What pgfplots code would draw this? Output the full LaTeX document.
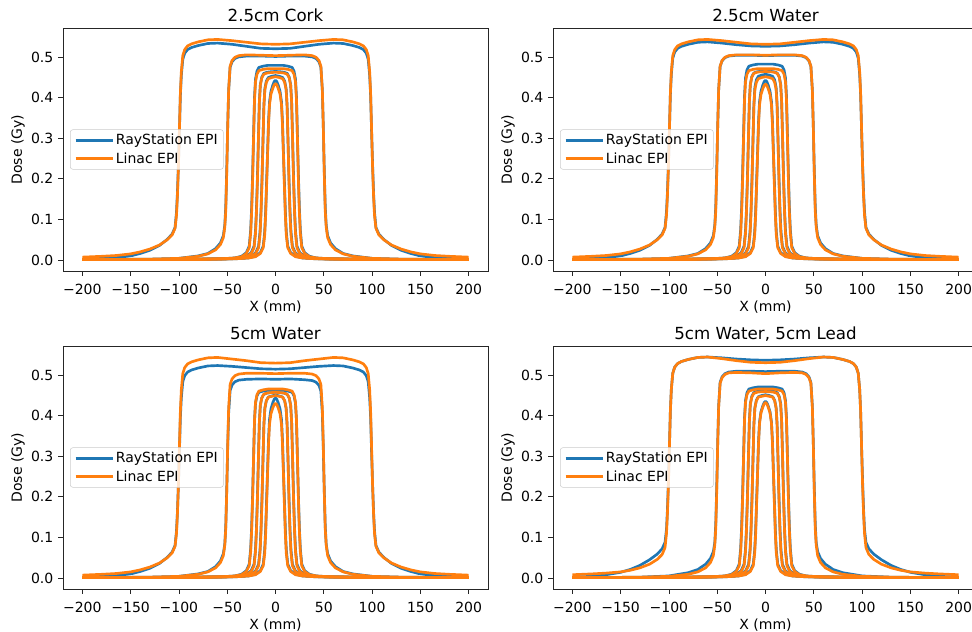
\documentclass[border=0pt]{standalone}
\usepackage{pgfplots}
\pgfplotsset{compat=1.18}
\usepackage{pgfplotstable}
\usepackage{fontspec}
\setmainfont{DejaVu Sans}
\definecolor{tabblue}{HTML}{1F77B4}
\definecolor{taborange}{HTML}{FF7F0E}

% columns: tl = 2.5cm Cork, tr = 2.5cm Water, bl = 5cm Water, br = 5cm Water 5cm Lead; b = RayStation, o = Linac
\pgfplotstableread{
x tlb tlo trb tro blb blo brb bro
-200 .002 .007 .002 .007 .002 .007 .002 .008
-180 .004 .009 .004 .009 .004 .009 .004 .010
-165 .006 .011 .006 .011 .006 .011 .008 .012
-150 .010 .015 .010 .015 .010 .015 .014 .015
-140 .016 .020 .016 .020 .016 .020 .021 .019
-130 .024 .027 .024 .027 .024 .027 .031 .025
-120 .036 .037 .036 .037 .036 .037 .045 .034
-112 .051 .050 .051 .050 .051 .050 .059 .046
-107 .064 .062 .064 .062 .064 .062 .072 .058
-104 .080 .078 .080 .078 .080 .078 .088 .075
-102.5 .118 .110 .119 .110 .116 .110 .120 .110
-101.5 .167 .160 .168 .160 .164 .160 .170 .160
-100.5 .236 .230 .237 .230 .231 .230 .240 .230
-99.5 .315 .320 .317 .320 .308 .320 .321 .320
-98.5 .405 .410 .407 .410 .396 .410 .411 .411
-97.5 .455 .464 .458 .464 .444 .464 .465 .465
-96 .495 .504 .498 .504 .484 .504 .505 .505
-94 .510 .519 .513 .519 .499 .519 .520 .520
-91 .519 .528 .522 .528 .508 .528 .529 .529
-87 .524 .533 .527 .533 .513 .533 .534 .534
-80 .529 .538 .532 .538 .518 .538 .539 .539
-70 .534 .543 .537 .543 .523 .543 .544 .544
-60 .535 .544 .538 .544 .524 .544 .545 .545
-45 .532 .541 .535 .541 .522 .540 .543 .541
-30 .527 .537 .531 .537 .519 .536 .540 .536
-15 .522 .533 .528 .533 .516 .531 .538 .532
0 .521 .532 .527 .532 .515 .530 .537 .531
15 .522 .533 .528 .533 .516 .531 .538 .532
30 .527 .537 .531 .537 .519 .536 .540 .536
45 .532 .541 .535 .541 .522 .540 .543 .541
60 .535 .544 .538 .544 .524 .544 .545 .545
70 .534 .543 .537 .543 .523 .543 .544 .544
80 .529 .538 .532 .538 .518 .538 .539 .539
87 .524 .533 .527 .533 .513 .533 .534 .534
91 .519 .528 .522 .528 .508 .528 .529 .529
94 .510 .519 .513 .519 .499 .519 .520 .520
96 .495 .504 .498 .504 .484 .504 .505 .505
97.5 .455 .464 .458 .464 .444 .464 .465 .465
98.5 .405 .410 .407 .410 .396 .410 .411 .411
99.5 .315 .320 .317 .320 .308 .320 .321 .320
100.5 .236 .230 .237 .230 .231 .230 .240 .230
101.5 .167 .160 .168 .160 .164 .160 .170 .160
102.5 .118 .110 .119 .110 .116 .110 .120 .110
104 .080 .078 .080 .078 .080 .078 .088 .075
107 .064 .062 .064 .062 .064 .062 .072 .058
112 .051 .050 .051 .050 .051 .050 .059 .046
120 .036 .037 .036 .037 .036 .037 .045 .034
130 .024 .027 .024 .027 .024 .027 .031 .025
140 .016 .020 .016 .020 .016 .020 .021 .019
150 .010 .015 .010 .015 .010 .015 .014 .015
165 .006 .011 .006 .011 .006 .011 .008 .012
180 .004 .009 .004 .009 .004 .009 .004 .010
200 .002 .007 .002 .007 .002 .007 .002 .008
}\tabL

\pgfplotstableread{
x tlb tlo trb tro blb blo brb bro
-200 .001 .001 .001 .001 .001 .001 .001 .001
-165 .0012 .0012 .0012 .0012 .0012 .0012 .0012 .0012
-130 .002 .002 .002 .002 .002 .002 .002 .002
-100 .004 .004 .004 .004 .004 .004 .005 .004
-80 .010 .009 .010 .009 .010 .009 .013 .009
-70 .016 .015 .016 .015 .016 .015 .021 .015
-62 .028 .025 .028 .025 .028 .025 .034 .025
-57 .042 .038 .042 .038 .042 .038 .048 .038
-54 .060 .055 .060 .055 .060 .055 .065 .055
-52.5 .086 .081 .086 .081 .083 .081 .087 .081
-51.5 .131 .121 .131 .121 .127 .121 .133 .122
-50.5 .221 .213 .222 .213 .216 .212 .224 .213
-49.5 .327 .329 .328 .329 .319 .328 .332 .330
-48.5 .418 .420 .419 .420 .407 .419 .424 .422
-47 .475 .478 .477 .478 .462 .477 .482 .480
-45 .489 .492 .491 .492 .476 .491 .496 .494
-42 .497 .500 .499 .500 .484 .499 .504 .502
-38 .501 .504 .503 .504 .488 .503 .508 .506
-30 .503 .506 .505 .506 .490 .505 .510 .507
-15 .503 .505 .505 .506 .491 .505 .510 .506
0 .502 .504 .504 .505 .490 .504 .509 .504
15 .503 .505 .505 .506 .491 .505 .510 .506
30 .503 .506 .505 .506 .489 .505 .510 .507
38 .501 .504 .503 .504 .487 .503 .508 .506
42 .497 .500 .499 .500 .483 .499 .504 .502
45 .489 .492 .491 .492 .475 .491 .496 .494
47 .475 .478 .477 .478 .461 .477 .482 .480
48.5 .418 .420 .419 .420 .406 .419 .424 .422
49.5 .327 .329 .328 .329 .318 .328 .332 .330
50.5 .221 .213 .222 .213 .216 .212 .224 .213
51.5 .131 .121 .131 .121 .127 .121 .133 .122
52.5 .086 .081 .086 .081 .083 .081 .087 .081
54 .060 .055 .060 .055 .060 .055 .065 .055
57 .042 .038 .042 .038 .042 .038 .048 .038
62 .028 .025 .028 .025 .028 .025 .034 .025
70 .016 .015 .016 .015 .016 .015 .021 .015
80 .010 .009 .010 .009 .010 .009 .013 .009
100 .004 .004 .004 .004 .004 .004 .005 .004
130 .002 .002 .002 .002 .002 .002 .002 .002
165 .0012 .0012 .0012 .0012 .0012 .0012 .0012 .0012
200 .001 .001 .001 .001 .001 .001 .001 .001
}\tabM

\pgfplotstableread{
x tlb tlo trb tro blb blo brb bro
-200 .001 .001 .001 .001 .001 .001 .001 .001
-120 .0012 .0012 .0012 .0012 .0012 .0012 .0012 .0012
-80.2 .002 .002 .002 .002 .002 .002 .002 .002
-55.2 .003 .003 .003 .003 .003 .003 .003 .003
-42.2 .005 .005 .005 .005 .005 .005 .005 .005
-35.2 .009 .008 .009 .008 .009 .008 .009 .008
-30.2 .018 .016 .018 .016 .018 .016 .018 .016
-27.2 .034 .030 .034 .030 .034 .030 .034 .030
-25.7 .074 .066 .075 .066 .072 .065 .073 .065
-24.7 .130 .118 .130 .118 .125 .117 .127 .117
-23.7 .211 .198 .213 .198 .204 .196 .207 .196
-22.7 .307 .302 .309 .302 .296 .298 .301 .298
-21.7 .403 .396 .406 .396 .389 .391 .396 .391
-20.7 .446 .439 .449 .439 .431 .433 .438 .433
-19.2 .466 .458 .469 .458 .449 .452 .457 .452
-17.2 .475 .467 .478 .467 .458 .461 .466 .461
-13 .478 .470 .481 .470 .461 .464 .469 .464
-8 .480 .472 .483 .472 .463 .466 .471 .466
0 .480 .472 .483 .472 .463 .466 .471 .466
8 .480 .472 .483 .472 .463 .466 .471 .466
13 .478 .470 .481 .470 .461 .464 .469 .464
17.2 .475 .467 .478 .467 .458 .461 .466 .461
19.2 .466 .458 .469 .458 .449 .452 .457 .452
20.7 .446 .439 .449 .439 .431 .433 .438 .433
21.7 .403 .396 .406 .396 .389 .391 .396 .391
22.7 .307 .302 .309 .302 .296 .298 .301 .298
23.7 .211 .198 .213 .198 .204 .196 .207 .196
24.7 .130 .118 .130 .118 .125 .117 .127 .117
25.7 .074 .066 .075 .066 .072 .065 .073 .065
27.2 .034 .030 .034 .030 .034 .030 .034 .030
30.2 .018 .016 .018 .016 .018 .016 .018 .016
35.2 .009 .008 .009 .008 .009 .008 .009 .008
42.2 .005 .005 .005 .005 .005 .005 .005 .005
55.2 .003 .003 .003 .003 .003 .003 .003 .003
80.2 .002 .002 .002 .002 .002 .002 .002 .002
120 .0012 .0012 .0012 .0012 .0012 .0012 .0012 .0012
200 .001 .001 .001 .001 .001 .001 .001 .001
}\tabSd

\pgfplotstableread{
x tlb tlo trb tro blb blo brb bro
-200 .001 .001 .001 .001 .001 .001 .001 .001
-120 .0012 .0012 .0012 .0012 .0012 .0012 .0012 .0012
-75.2 .002 .002 .002 .002 .002 .002 .002 .002
-50.2 .003 .003 .003 .003 .003 .003 .003 .003
-37.2 .005 .005 .005 .005 .005 .005 .005 .005
-30.2 .009 .008 .009 .008 .009 .008 .009 .008
-25.2 .018 .016 .018 .016 .018 .016 .018 .016
-22.2 .034 .030 .034 .030 .034 .030 .034 .030
-20.7 .072 .065 .072 .065 .071 .064 .072 .064
-19.7 .126 .116 .126 .116 .124 .115 .125 .115
-18.7 .205 .194 .205 .195 .202 .192 .203 .193
-17.7 .298 .296 .298 .298 .293 .293 .296 .294
-16.7 .391 .389 .391 .391 .385 .385 .388 .386
-15.7 .432 .431 .433 .432 .426 .426 .430 .428
-14.2 .451 .449 .452 .451 .444 .444 .448 .446
-12.2 .460 .458 .461 .460 .453 .453 .457 .455
-9 .463 .461 .464 .463 .456 .456 .460 .458
-6 .464 .462 .465 .464 .457 .457 .461 .459
0 .465 .463 .466 .465 .458 .458 .462 .460
6 .464 .462 .465 .464 .457 .457 .461 .459
9 .463 .461 .464 .463 .456 .456 .460 .458
12.2 .460 .458 .461 .460 .453 .453 .457 .455
14.2 .451 .449 .452 .451 .444 .444 .448 .446
15.7 .432 .431 .433 .432 .426 .426 .430 .428
16.7 .391 .389 .391 .391 .385 .385 .388 .386
17.7 .298 .296 .298 .298 .293 .293 .296 .294
18.7 .205 .194 .205 .195 .202 .192 .203 .193
19.7 .126 .116 .126 .116 .124 .115 .125 .115
20.7 .072 .065 .072 .065 .071 .064 .072 .064
22.2 .034 .030 .034 .030 .034 .030 .034 .030
25.2 .018 .016 .018 .016 .018 .016 .018 .016
30.2 .009 .008 .009 .008 .009 .008 .009 .008
37.2 .005 .005 .005 .005 .005 .005 .005 .005
50.2 .003 .003 .003 .003 .003 .003 .003 .003
75.2 .002 .002 .002 .002 .002 .002 .002 .002
120 .0012 .0012 .0012 .0012 .0012 .0012 .0012 .0012
200 .001 .001 .001 .001 .001 .001 .001 .001
}\tabSc

\pgfplotstableread{
x tlb tlo trb tro blb blo brb bro
-200 .001 .001 .001 .001 .001 .001 .001 .001
-120 .0012 .0012 .0012 .0012 .0012 .0012 .0012 .0012
-70.5 .002 .002 .002 .002 .002 .002 .002 .002
-45.5 .003 .003 .003 .003 .003 .003 .003 .003
-32.5 .005 .005 .005 .005 .005 .005 .005 .005
-25.5 .009 .008 .009 .008 .009 .008 .009 .008
-20.5 .018 .016 .018 .016 .018 .016 .018 .016
-17.5 .034 .030 .034 .030 .034 .030 .034 .030
-16 .071 .063 .071 .063 .070 .063 .070 .063
-15 .123 .113 .124 .113 .122 .113 .122 .113
-14 .200 .190 .202 .190 .198 .189 .199 .189
-13 .291 .289 .293 .289 .289 .288 .289 .288
-12 .382 .380 .385 .380 .379 .378 .380 .378
-11 .423 .420 .426 .420 .419 .419 .420 .419
-9.5 .441 .438 .444 .438 .437 .437 .438 .437
-7.5 .450 .447 .453 .447 .446 .446 .447 .446
-4 .453 .450 .456 .450 .449 .448 .450 .448
0 .455 .452 .458 .452 .451 .450 .452 .450
4 .453 .450 .456 .450 .449 .448 .450 .448
7.5 .450 .447 .453 .447 .446 .446 .447 .446
9.5 .441 .438 .444 .438 .437 .437 .438 .437
11 .423 .420 .426 .420 .419 .419 .420 .419
12 .382 .380 .385 .380 .379 .378 .380 .378
13 .291 .289 .293 .289 .289 .288 .289 .288
14 .200 .190 .202 .190 .198 .189 .199 .189
15 .123 .113 .124 .113 .122 .113 .122 .113
16 .071 .063 .071 .063 .070 .063 .070 .063
17.5 .034 .030 .034 .030 .034 .030 .034 .030
20.5 .018 .016 .018 .016 .018 .016 .018 .016
25.5 .009 .008 .009 .008 .009 .008 .009 .008
32.5 .005 .005 .005 .005 .005 .005 .005 .005
45.5 .003 .003 .003 .003 .003 .003 .003 .003
70.5 .002 .002 .002 .002 .002 .002 .002 .002
120 .0012 .0012 .0012 .0012 .0012 .0012 .0012 .0012
200 .001 .001 .001 .001 .001 .001 .001 .001
}\tabSb

\pgfplotstableread{
x tlb tlo trb tro blb blo brb bro
-200 .001 .001 .001 .001 .001 .001 .001 .001
-120 .0012 .0012 .0012 .0012 .0012 .0012 .0012 .0012
-65.7 .002 .002 .002 .002 .002 .002 .002 .002
-40.7 .003 .003 .003 .003 .003 .003 .003 .003
-27.7 .005 .005 .005 .005 .005 .005 .005 .005
-20.7 .009 .008 .009 .008 .009 .008 .009 .008
-15.7 .018 .016 .018 .016 .018 .016 .018 .016
-12.7 .034 .030 .034 .030 .034 .030 .034 .030
-11.2 .069 .061 .069 .061 .069 .060 .068 .061
-10.2 .120 .109 .120 .109 .120 .108 .118 .108
-9.2 .195 .183 .195 .182 .195 .181 .192 .182
-8.2 .266 .261 .266 .260 .266 .259 .262 .260
-7.2 .341 .335 .341 .334 .342 .332 .336 .333
-6.2 .390 .383 .390 .382 .391 .379 .384 .381
-4.7 .416 .409 .416 .408 .417 .405 .410 .407
-2.7 .432 .424 .432 .423 .433 .420 .425 .422
-1.3 .440 .432 .440 .431 .441 .428 .433 .430
0 .443 .435 .443 .434 .444 .431 .436 .433
1.3 .440 .432 .440 .431 .441 .428 .433 .430
2.7 .432 .424 .432 .423 .433 .420 .425 .422
4.7 .416 .409 .416 .408 .417 .405 .410 .407
6.2 .390 .383 .390 .382 .391 .379 .384 .381
7.2 .341 .335 .341 .334 .342 .332 .336 .333
8.2 .266 .261 .266 .260 .266 .259 .262 .260
9.2 .195 .183 .195 .182 .195 .181 .192 .182
10.2 .120 .109 .120 .109 .120 .108 .118 .108
11.2 .069 .061 .069 .061 .069 .060 .068 .061
12.7 .034 .030 .034 .030 .034 .030 .034 .030
15.7 .018 .016 .018 .016 .018 .016 .018 .016
20.7 .009 .008 .009 .008 .009 .008 .009 .008
27.7 .005 .005 .005 .005 .005 .005 .005 .005
40.7 .003 .003 .003 .003 .003 .003 .003 .003
65.7 .002 .002 .002 .002 .002 .002 .002 .002
120 .0012 .0012 .0012 .0012 .0012 .0012 .0012 .0012
200 .001 .001 .001 .001 .001 .001 .001 .001
}\tabSa

\pgfplotsset{
  rs/.style={tabblue, line width=2pt, line join=round},
  li/.style={taborange, line width=2pt, line join=round},
  myax/.style={
    scale only axis, width=318.75pt, height=182.25pt,
    xmin=-220, xmax=220, ymin=-0.0272, ymax=0.5722,
    xtick={-200,-150,-100,-50,0,50,100,150,200},
    xticklabels={−200,−150,−100,−50,0,50,100,150,200},
    ytick={0,0.1,0.2,0.3,0.4,0.5},
    yticklabels={0.0,0.1,0.2,0.3,0.4,0.5},
    tick align=outside, tick pos=left, major tick length=3.5pt,
    axis line style={black!85, line width=0.6pt},
    tick style={black!85, line width=0.6pt},
    xticklabel style={font=\fontsize{10.5}{12}\selectfont, inner sep=0pt, anchor=base, yshift=-14.5pt},
    yticklabel style={font=\fontsize{10.5}{12}\selectfont, inner sep=0pt, anchor=east, xshift=-3.6pt},
    xlabel={X (mm)}, ylabel={Dose (Gy)},
    xlabel style={font=\fontsize{10.5}{12}\selectfont, inner sep=0pt, at={(axis description cs:0.5,0)}, anchor=base, yshift=-30.5pt},
    ylabel style={font=\fontsize{10.5}{12}\selectfont, inner sep=0pt, at={(axis description cs:-0.106,0.5)}, anchor=center},
    title style={font=\fontsize{12.5}{14}\selectfont, inner sep=0pt, at={(axis description cs:0.5,1)}, anchor=base, yshift=-0.75pt},
    legend style={at={(axis description cs:0.0165,0.5)}, anchor=west, draw=black!20, rounded corners=2pt,
      fill=white, fill opacity=0.8, text opacity=1, font=\fontsize{10.5}{12}\selectfont,
      inner xsep=3pt, inner ysep=2pt, row sep=2pt, nodes={inner sep=1.2pt},
      /tikz/every even column/.append style={column sep=5pt}},
    legend cell align=left,
    legend image code/.code={\draw[##1] (0pt,0pt) -- (28pt,0pt);},
  }
}

\newcommand\drawpanel[2]{%
  \addplot[rs, forget plot] table[x=x, y=#1]{\tabL};
  \addplot[rs, forget plot] table[x=x, y=#1]{\tabM};
  \addplot[rs, forget plot] table[x=x, y=#1]{\tabSd};
  \addplot[rs, forget plot] table[x=x, y=#1]{\tabSc};
  \addplot[rs, forget plot] table[x=x, y=#1]{\tabSb};
  \addplot[rs, forget plot] table[x=x, y=#1]{\tabSa};
  \addplot[li, forget plot] table[x=x, y=#2]{\tabL};
  \addplot[li, forget plot] table[x=x, y=#2]{\tabM};
  \addplot[li, forget plot] table[x=x, y=#2]{\tabSd};
  \addplot[li, forget plot] table[x=x, y=#2]{\tabSc};
  \addplot[li, forget plot] table[x=x, y=#2]{\tabSb};
  \addplot[li, forget plot] table[x=x, y=#2]{\tabSa};
  \addlegendimage{rs}\addlegendentry{RayStation EPI}
  \addlegendimage{li}\addlegendentry{Linac EPI}
}

\begin{document}
\begin{tikzpicture}
\path[use as bounding box] (0,0) rectangle (729pt,474pt);
\begin{axis}[myax, at={(47.25pt,270.75pt)}, anchor=south west, title={2.5cm Cork}]
\drawpanel{tlb}{tlo}
\end{axis}
\begin{axis}[myax, at={(414.75pt,270.75pt)}, anchor=south west, title={2.5cm Water}]
\drawpanel{trb}{tro}
\end{axis}
\begin{axis}[myax, at={(47.25pt,32.25pt)}, anchor=south west, title={5cm Water}]
\drawpanel{blb}{blo}
\end{axis}
\begin{axis}[myax, at={(414.75pt,32.25pt)}, anchor=south west, title={5cm Water, 5cm Lead}]
\drawpanel{brb}{bro}
\end{axis}
\end{tikzpicture}
\end{document}
